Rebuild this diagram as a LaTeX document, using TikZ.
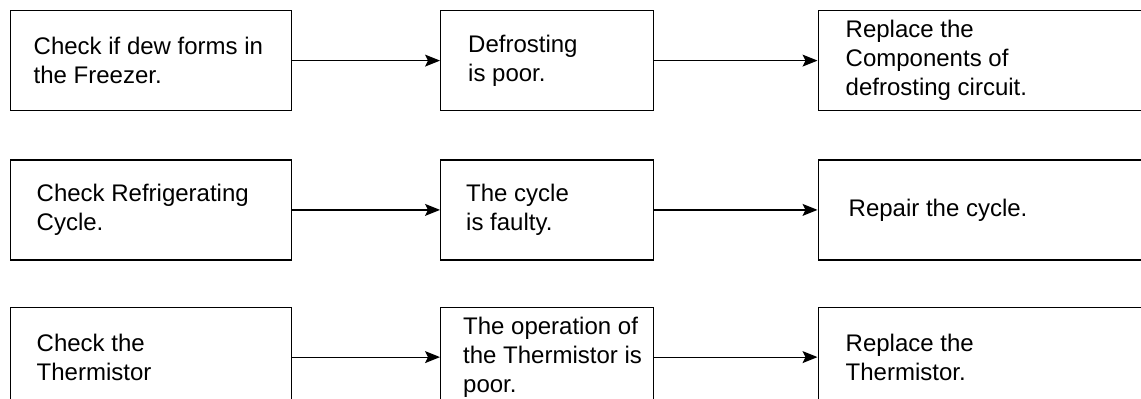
\documentclass[tikz,border=0pt]{standalone}
\usepackage{fontspec}
\setmainfont{Liberation Sans}
\usetikzlibrary{arrows.meta}
\begin{document}
\begin{tikzpicture}[x=1pt,y=-1pt,
  box/.style={draw=black, line width=1.2pt, rectangle, minimum height=100pt, inner sep=0pt, anchor=north west},
  txt/.style={anchor=west, align=left, inner sep=0pt, font=\fontsize{24}{29}\selectfont},
  arr/.style={-{Stealth[length=15pt,width=12pt,inset=3pt]}, line width=1.2pt}]
\useasboundingbox (0,0) rectangle (1141,399);
\clip (0,0) rectangle (1141,399);
% row 1
\node[box, minimum width=281.5pt] (a1) at (9.5,10) {};
\node[box, minimum width=213pt] (b1) at (440,10) {};
\node[box, minimum width=360pt] (c1) at (817.5,10) {};
\node[txt] (a1t) at ([xshift=24pt]a1.west) {Check if dew forms in\\the Freezer.};
\node[txt] (b1t) at ([xshift=28pt]b1.west) {Defrosting\\is poor.};
\node[txt] (c1t) at ([xshift=28pt]c1.west) {Replace the\\Components of\\defrosting circuit.};
\draw[arr] (a1) -- (b1);
\draw[arr] (b1) -- (c1);
% row 2
\node[box, minimum width=281.5pt] (a2) at (9.5,159.3) {};
\node[box, minimum width=213pt] (b2) at (440,159.3) {};
\node[box, minimum width=360pt] (c2) at (817.5,159.3) {};
\node[txt] (a2t) at ([xshift=27pt]a2.west) {Check Refrigerating\\Cycle.};
\node[txt] (b2t) at ([xshift=26pt]b2.west) {The cycle\\is faulty.};
\node[txt] (c2t) at ([xshift=31pt]c2.west) {Repair the cycle.};
\draw[arr] (a2) -- (b2);
\draw[arr] (b2) -- (c2);
% row 3
\node[box, minimum width=281.5pt] (a3) at (9.5,306.5) {};
\node[box, minimum width=213pt] (b3) at (440,306.5) {};
\node[box, minimum width=360pt] (c3) at (817.5,306.5) {};
\node[txt] (a3t) at ([xshift=27pt]a3.west) {Check the\\Thermistor};
\node[txt] (b3t) at ([xshift=23pt]b3.west) {The operation of\\the Thermistor is\\poor.};
\node[txt] (c3t) at ([xshift=28pt]c3.west) {Replace the\\Thermistor.};
\draw[arr] (a3) -- (b3);
\draw[arr] (b3) -- (c3);
\end{tikzpicture}
\end{document}
